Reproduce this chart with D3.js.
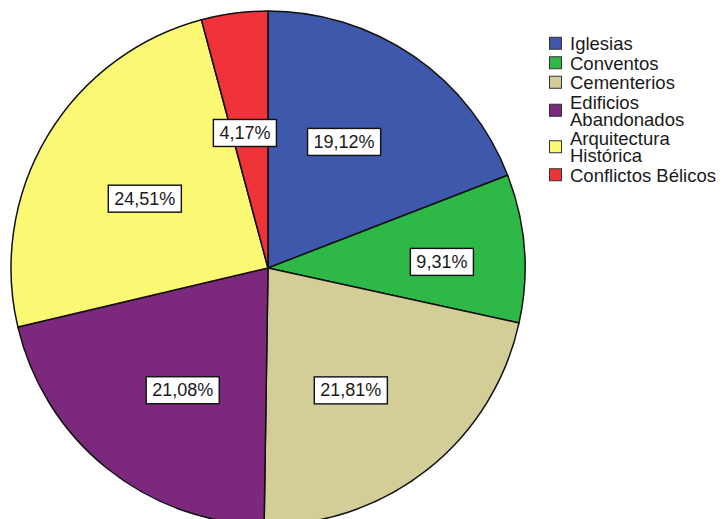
<!DOCTYPE html>
<html>
<head>
<meta charset="utf-8">
<script src="https://cdn.jsdelivr.net/npm/d3@7"></script>
<style>
  html, body { margin: 0; padding: 0; background: #ffffff; }
  svg { display: block; }
  text { font-family: "Liberation Sans", Arial, sans-serif; fill: #1a1a1a; }
</style>
</head>
<body>
<svg id="chart" width="724" height="519"></svg>
<script>
// Categories and their shares (%)
const categories = [
  ["Iglesias"],
  ["Conventos"],
  ["Cementerios"],
  ["Edificios", "Abandonados"],
  ["Arquitectura", "Histórica"],
  ["Conflictos Bélicos"]
];
const values = [19.12, 9.31, 21.81, 21.08, 24.51, 4.17];

// Slice colours
const colors = ["#3E58AC", "#2EB848", "#D3CE97", "#7C287D", "#FBF873", "#EF3338"];

// Placement of each percentage box: fraction of the radius, and a
// small angular nudge (degrees) away from the slice's mid-angle
const labelRadius = [0.573, 0.677, 0.575, 0.58, 0.55, 0.533];
const labelNudge  = [-3.3, 2.4, 4.3, -3.9, -1.5, -2.2];

const svg = d3.select("#chart");
const cx = 268, cy = 268, r = 257;

const pie = d3.pie().sort(null).value(d => d)
  .startAngle(0).endAngle(2 * Math.PI);
const arcs = pie(values);
const arc = d3.arc().innerRadius(0).outerRadius(r);

const g = svg.append("g").attr("transform", `translate(${cx},${cy})`);

g.selectAll("path.slice")
  .data(arcs)
  .join("path")
  .attr("class", "slice")
  .attr("d", arc)
  .attr("fill", (d, i) => colors[i])
  .attr("stroke", "#111")
  .attr("stroke-width", 1.5)
  .attr("stroke-linejoin", "round");

// Percentage labels in white boxes
const fmt = v => d3.format(".2f")(v).replace(".", ",") + "%";
const labels = g.selectAll("g.lbl")
  .data(arcs)
  .join("g")
  .attr("class", "lbl")
  .attr("transform", (d, i) => {
    const a = (d.startAngle + d.endAngle) / 2 + labelNudge[i] * Math.PI / 180;
    const lr = r * labelRadius[i];
    return `translate(${Math.sin(a) * lr},${-Math.cos(a) * lr})`;
  });

labels.each(function(d) {
  const sel = d3.select(this);
  const t = sel.append("text")
    .attr("text-anchor", "middle")
    .attr("dominant-baseline", "central")
    .attr("font-size", 18)
    .text(fmt(d.data));
  const w = t.node().getComputedTextLength();
  sel.insert("rect", "text")
    .attr("x", -w / 2 - 6)
    .attr("y", -13.5)
    .attr("width", w + 12)
    .attr("height", 27)
    .attr("fill", "#ffffff")
    .attr("stroke", "#111")
    .attr("stroke-width", 1.4);
});

// Legend
const legend = svg.append("g").attr("transform", "translate(549,0)");
const singleH = 19.5, lineStep = 17;
let y = 33.5;
categories.forEach((lines, i) => {
  const h = singleH + lineStep * (lines.length - 1);
  const mid = y + h / 2;
  legend.append("rect")
    .attr("x", 0.5)
    .attr("y", mid - 6)
    .attr("width", 12)
    .attr("height", 12)
    .attr("fill", colors[i])
    .attr("stroke", "#333")
    .attr("stroke-width", 1);
  const firstY = mid - lineStep * (lines.length - 1) / 2;
  const t = legend.append("text")
    .attr("font-size", 18.5)
    .attr("dominant-baseline", "central");
  lines.forEach((ln, j) => {
    t.append("tspan")
      .attr("x", 21)
      .attr("y", firstY + j * lineStep)
      .text(ln);
  });
  y += h;
});
</script>
</body>
</html>
